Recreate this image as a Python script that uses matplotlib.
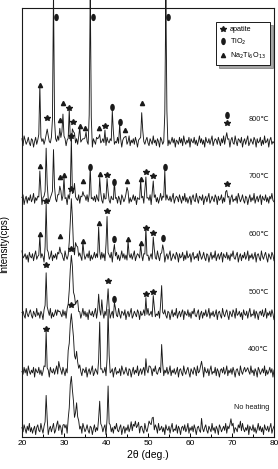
import numpy as np
import matplotlib
matplotlib.use('Agg')
import matplotlib.pyplot as plt
from matplotlib.path import Path
from matplotlib.lines import Line2D

plt.rcParams['font.family'] = ['Liberation Sans', 'DejaVu Sans']

# ---------------- data ----------------
two_theta = np.arange(20, 80.001, 0.25)

# background fluctuation (counts, hand estimated)
noise = [
    1, -2, 3, 0, -3, 2, -1, 4, -2, 1,
    -3, 0, 2, -4, 1, 3, -1, -2, 4, 0,
    -3, 2, 1, -1, 3, -4, 0, 2, -2, 1,
    4, -3, -1, 2, 0, -2, 3, 1, -4, 2,
    -1, 0, 3, -3, 1, -2, 4, -1, 0, 2,
    -4, 1, 3, -2, 0, -1, 2, -3, 4, 1,
    -2, 0, 3, -1, -3, 2, 1, -4, 0, 3,
    -2, 1, -1, 4, -3, 0, 2, -2, 1, 3,
    -4, 2, 0, -1, 3, -2, 1, -3, 2, 0,
    4, -1, -2, 1, 3, -4, 0, 2, -3, 1,
    -1, 3, -2, 0, 4, -3, 1, -1, 2, -2,
    0, 3, -4, 1, 2, -1, -3, 4, 0, -2,
    1, 3, -1, -4, 2, 0, -2, 3, 1, -3,
    4, -1, 0, 2, -2, 1, -4, 3, 0, -1,
    2, -3, 1, 4, -2, 0, -1, 3, -3, 2,
    0, -4, 1, 2, -1, 3, -2, 0, 4, -3,
    1, -1, 2, -2, 3, 0, -4, 1, 2, -1,
    -3, 4, 0, -2, 1, 3, -1, -3, 2, 0,
    -2, 4, -1, 1, -3, 2, 0, -4, 3, 1,
    -2, 0, 2, -1, 4, -3, 1, -2, 0, 3,
    -1, 2, -4, 1, 0, -2, 3, -1, 2, -3,
    4, 0, -2, 1, -1, 3, -4, 2, 0, -1,
    3, -2, 1, -3, 0, 4, -1, 2, -2, 1,
    -4, 3, 0, -1, 2, -2, 1, 4, -3, 0,
    2,
]
noise_scale = 1.4

labels = ['No heating', '400℃', '500℃', '600℃', '700℃', '800℃']

# peak positions (2θ), heights, widths (deg) and phase markers for each sample
nh_pos = [25.75, 28.5, 30.0, 31.75, 33.0, 38.5, 40.5, 47.0, 50.75, 51.25, 62.75, 69.75, 72.0]
nh_h   = [35, 8, 6, 54, 22, 32, 43, 5, 10, 8, 5, 6, 5]
nh_w   = [0.3, 0.3, 0.3, 0.9, 0.8, 0.3, 0.3, 1.5, 0.8, 0.3, 0.3, 1.0, 0.5]
nh_mk  = ['', '', '', '', '', '', '', '', '', '', '', '', '']

t400_pos = [25.75, 28.75, 31.75, 33.0, 38.5, 40.5, 49.5, 50.5, 53.25, 62.75, 73.5]
t400_h   = [38, 10, 62, 16, 48, 65, 10, 8, 27, 13, 6]
t400_w   = [0.3, 0.3, 1.0, 0.8, 0.3, 0.3, 0.3, 0.3, 0.3, 0.3, 0.3]
t400_mk  = ['*', '', '*', '', '', '', '', '', '', '', '']

t500_pos = [25.75, 28.75, 31.75, 33.0, 38.25, 39.0, 40.5, 42.0, 49.5, 51.25, 53.25]
t500_h   = [44, 8, 60, 14, 17, 10, 28, 10, 15, 17, 27]
t500_w   = [0.3, 0.3, 0.9, 0.8, 0.3, 0.3, 0.3, 0.3, 0.3, 0.3, 0.3]
t500_mk  = ['*', '', '*', '', '', '', '*', 'o', '*', '*', '']

t600_pos = [24.25, 25.75, 29.0, 31.75, 33.0, 34.5, 38.25, 40.25, 42.0, 45.25, 48.25, 49.5, 51.25, 53.5]
t600_h   = [17, 50, 15, 62, 12, 10, 28, 40, 12, 12, 8, 23, 18, 13]
t600_w   = [0.3, 0.3, 0.3, 0.6, 0.8, 0.3, 0.3, 0.3, 0.3, 0.3, 0.3, 0.3, 0.3, 0.3]
t600_mk  = ['^', '*', '^', '*', '', '^', '^', '*', 'o', '^', '^', '*', '*', 'o']

t700_pos = [24.25, 25.75, 27.5, 29.0, 30.0, 31.75, 32.5, 34.5, 36.25, 38.5, 40.25, 42.0, 45.0, 48.25, 49.5, 51.25, 54.0, 68.75]
t700_h   = [28, 55, 55, 17, 19, 58, 10, 13, 27, 20, 19, 12, 13, 15, 22, 18, 27, 10]
t700_w   = [0.3, 0.3, 0.3, 0.3, 0.3, 0.3, 0.5, 0.3, 0.3, 0.3, 0.3, 0.3, 0.3, 0.3, 0.3, 0.3, 0.3, 0.3]
t700_mk  = ['^', '', '', '^', '^', '*', '', '^', 'o', '^', '*', 'o', '^', '^', '*', '*', 'o', '*']

t800_pos = [24.25, 26.0, 27.5, 29.0, 29.75, 31.25, 32.25, 33.75, 35.0, 36.25, 38.25, 39.75, 41.5, 43.25, 44.5, 48.5, 54.25, 68.75]
t800_h   = [51, 18, 150, 16, 33, 28, 14, 10, 8, 150, 8, 10, 29, 14, 6, 33, 150, 13]
t800_w   = [0.3, 0.3, 0.3, 0.3, 0.3, 0.3, 0.5, 0.5, 0.5, 0.3, 0.3, 0.3, 0.3, 0.3, 0.3, 0.3, 0.3, 0.3]
t800_mk  = ['^', '*', 'o', '^', '^', '*', '*', '^', '^', 'o', '^', '*', 'o', 'o', '^', '^', 'o', '*o']

samples = [
    (nh_pos, nh_h, nh_w, nh_mk),
    (t400_pos, t400_h, t400_w, t400_mk),
    (t500_pos, t500_h, t500_w, t500_mk),
    (t600_pos, t600_h, t600_w, t600_mk),
    (t700_pos, t700_h, t700_w, t700_mk),
    (t800_pos, t800_h, t800_w, t800_mk),
]

# ---------------- style ----------------
base0 = 8.0
step = 57.5
gap = 5.0
ink = '#1a1a1a'

circ = Path.unit_circle()
oval = Path(circ.vertices * np.array([0.55, 1.0]), circ.codes)
mstyle = {
    '*': dict(marker='*', ms=4.3),
    'o': dict(marker=oval, ms=4.2),
    '^': dict(marker='^', ms=3.0),
}

fig = plt.figure(figsize=(2.78, 4.69), dpi=100)
ax = fig.add_axes([22 / 278, 32 / 469, 252 / 278, 429 / 469])

noise_arr = np.array(noise, dtype=float) * noise_scale
for k, (pos, hgt, wid, mks) in enumerate(samples):
    base = base0 + k * step
    y = base + np.roll(noise_arr, k * 37)
    for p, h, w in zip(pos, hgt, wid):
        y = y + h * np.clip(1 - np.abs(two_theta - p) / w, 0, None)
    ax.plot(two_theta, y, color=ink, lw=0.65, clip_on=False, zorder=2)
    for p, h, m in zip(pos, hgt, mks):
        if not m:
            continue
        if h > 140:
            ax.plot(p + 0.6, 420, color=ink, ls='none', clip_on=False,
                    zorder=3, **mstyle[m])
            continue
        yy = base + h + gap
        for mm in m:
            ax.plot(p, yy, color=ink, ls='none', clip_on=False, zorder=3,
                    **mstyle[mm])
            yy += 8
    ax.text(78.8, base + 22, labels[k], ha='right', va='center',
            fontsize=5.3, color=ink)

ax.set_xlim(20, 80)
ax.set_ylim(0, 429)
ax.set_xticks(np.arange(20, 81, 10))
ax.set_xticks(np.arange(25, 80, 10), minor=True)
ax.set_yticks([])
ax.tick_params(axis='x', which='both', direction='in', top=False,
               labelsize=6, pad=2.5, width=0.7)
ax.tick_params(axis='x', which='major', length=3)
ax.tick_params(axis='x', which='minor', length=2)
for s in ax.spines.values():
    s.set_linewidth(0.8)
    s.set_color(ink)

ax.set_xlabel('2θ (deg.)', fontsize=7.5, labelpad=2)
ax.set_ylabel('Intensity(cps)', fontsize=7)
ax.yaxis.set_label_coords(-0.05, 0.45)

handles = [
    Line2D([], [], color=ink, ls='none', **mstyle['*']),
    Line2D([], [], color=ink, ls='none', **mstyle['o']),
    Line2D([], [], color=ink, ls='none', **mstyle['^']),
]
leg = ax.legend(handles, ['apatite', 'TiO$_2$', 'Na$_2$Ti$_6$O$_{13}$'],
                loc='upper right', bbox_to_anchor=(0.985, 0.968),
                fontsize=5.2, frameon=True, fancybox=False, shadow=True,
                handlelength=0.8, handletextpad=0.5, borderpad=0.6,
                labelspacing=0.5, borderaxespad=0)
leg.get_frame().set_edgecolor(ink)
leg.get_frame().set_linewidth(0.7)

fig.savefig('out.png', dpi=100)
